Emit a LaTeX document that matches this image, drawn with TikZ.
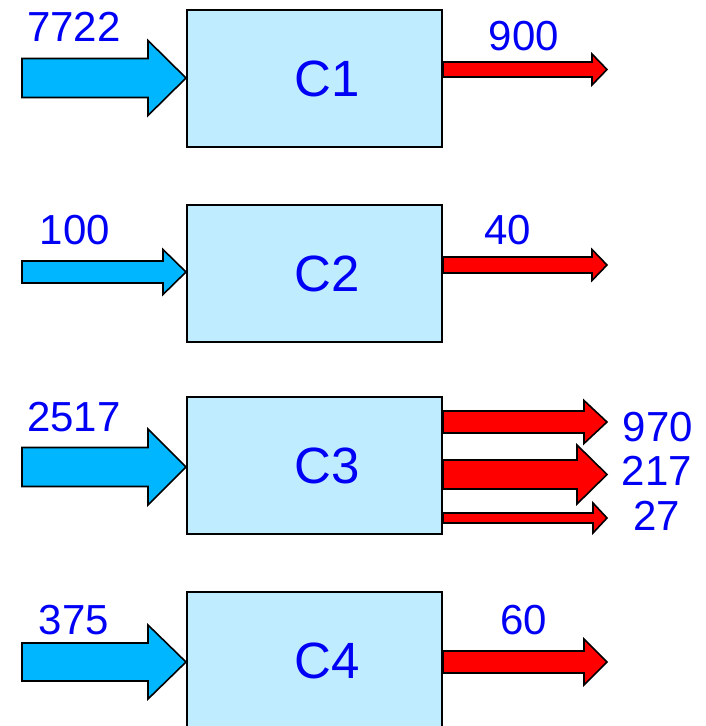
\documentclass[tikz,border=0pt]{standalone}
\usepackage{fontspec}
\setmainfont{Liberation Sans}
\definecolor{boxblue}{RGB}{192, 236, 255}
\definecolor{inblue}{RGB}{0, 183, 255}
\definecolor{outred}{RGB}{255, 0, 0}
\definecolor{textblue}{RGB}{0, 0, 245}
\usetikzlibrary{calc}

% block arrow: style, tail, tip, half shaft, half head, head length
\newcommand{\blockarrow}[6]{%
  \draw[#1] let \p1=(#2), \p2=(#3) in
    (\x1,\y1+#4pt) -- (\x2-#6pt,\y1+#4pt) -- (\x2-#6pt,\y1+#5pt) -- (\x2,\y1)
    -- (\x2-#6pt,\y1-#5pt) -- (\x2-#6pt,\y1-#4pt) -- (\x1,\y1-#4pt) -- cycle;}

\begin{document}
\begin{tikzpicture}[x=1pt, y=-1pt,
    cbox/.style={draw, line width=2pt, fill=boxblue, minimum width=255pt,
      minimum height=137pt, inner sep=0pt},
    cname/.style={text=textblue, font=\fontsize{51}{58}\selectfont, xshift=13pt},
    num/.style={text=textblue, font=\fontsize{42}{48}\selectfont, inner sep=0pt},
    inarrow/.style={draw, line width=1.6pt, line join=miter, fill=inblue},
    outarrow/.style={draw, line width=1.6pt, line join=miter, fill=outred}]
  \useasboundingbox (0,0) rectangle (706,726);
  \clip (0,0) rectangle (706,726);

  % boxes
  \node[cbox, label={[cname]center:C1}] (c1) at (314.5,78.5) {};
  \node[cbox, label={[cname]center:C2}] (c2) at (314.5,273.5) {};
  \node[cbox, label={[cname]center:C3}] (c3) at (314.5,465.5) {};
  \node[cbox, label={[cname]center:C4}] (c4) at (314.5,660.5) {};

  % inputs
  \coordinate (in1) at (22,78);
  \coordinate (in2) at (22,272);
  \coordinate (in3) at (22,467);
  \coordinate (in4) at (22,662);
  \blockarrow{inarrow}{in1}{c1.west}{19.5}{37.5}{38}
  \blockarrow{inarrow}{in2}{c2.west}{11}{22.5}{23}
  \blockarrow{inarrow}{in3}{c3.west}{19.5}{38}{38}
  \blockarrow{inarrow}{in4}{c4.west}{19}{37}{38}

  % outputs
  \coordinate (o1) at (607,69.5);
  \coordinate (o2) at (607,265);
  \coordinate (o31) at (607,422);
  \coordinate (o32) at (607,474.5);
  \coordinate (o33) at (607,518);
  \coordinate (o4) at (607,662);
  \blockarrow{outarrow}{c1.east |- o1}{o1}{7.5}{15.5}{15}
  \blockarrow{outarrow}{c2.east |- o2}{o2}{8}{15.5}{15}
  \blockarrow{outarrow}{c3.east |- o31}{o31}{11}{21.5}{23}
  \blockarrow{outarrow}{c3.east |- o32}{o32}{14.5}{29.5}{30}
  \blockarrow{outarrow}{c3.east |- o33}{o33}{5}{15}{14}
  \blockarrow{outarrow}{c4.east |- o4}{o4}{11}{23}{23}

  % values
  \node[num] (v1) at (74,27) {7722};
  \node[num] (v2) at (75,230) {100};
  \node[num] (v3) at (74,417) {2517};
  \node[num] (v4) at (74,620) {375};
  \node[num] (w1) at (524,36) {900};
  \node[num] (w2) at (508,230) {40};
  \node[num] (w31) at (658,427) {970};
  \node[num] (w32) at (657,471) {217};
  \node[num] (w33) at (657,516) {27};
  \node[num] (w4) at (524,620) {60};
\end{tikzpicture}
\end{document}
